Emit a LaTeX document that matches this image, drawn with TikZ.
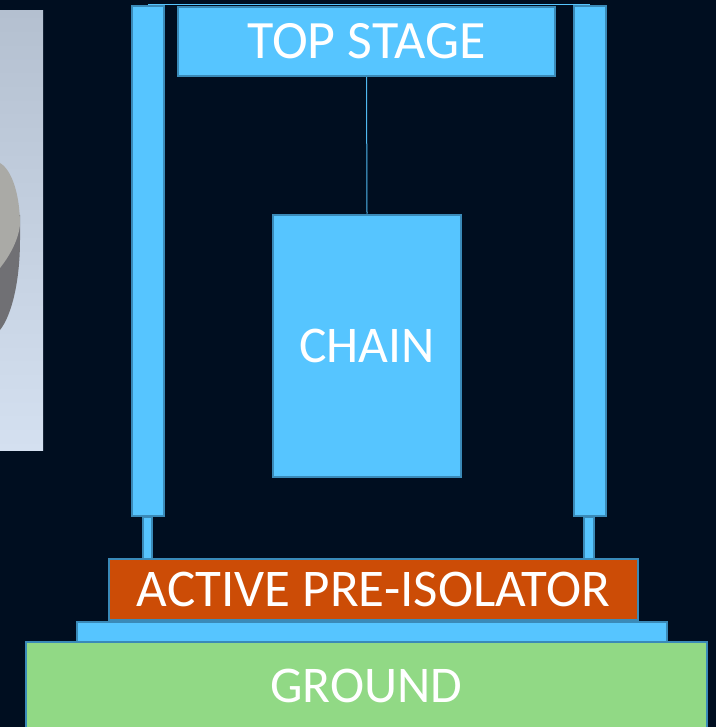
\documentclass[tikz,border=0pt]{standalone}
\usepackage{fontspec}
\setmainfont{Carlito}

\definecolor{night}{RGB}{0,14,32}
\definecolor{sky}{RGB}{86,197,255}
\definecolor{skyedge}{RGB}{58,138,184}
\definecolor{rust}{RGB}{204,76,6}
\definecolor{grass}{RGB}{145,217,133}
\definecolor{photohi}{RGB}{180,192,208}
\definecolor{photolo}{RGB}{212,224,240}
\definecolor{discside}{RGB}{112,112,116}
\definecolor{disctop}{RGB}{170,170,166}

\newcommand{\labelsize}[1]{\fontsize{#1}{64}\selectfont}

\tikzset{
  part/.style = {draw = skyedge, fill = sky, line width = 2.5pt,
                 inner sep = 0pt, text = white, font = \labelsize{51.5}},
  box/.style 2 args = {part, minimum width = #1, minimum height = #2}
}

\begin{document}
\begin{tikzpicture}
        [x = 1pt, y = -1pt]

        \fill[night] (0,0) rectangle (716,727);
        \useasboundingbox (0,0) rectangle (716,727);
        \clip (0,0) rectangle (716,727);

        % photo strip on the left
        \begin{scope}
          \clip (0,11) rectangle (43,450);
          \shade[top color = photohi, bottom color = photolo]
            (0,11) rectangle (43,450);
          \fill[discside] (0,215) -- (20,215) -- (20,240)
            .. controls (20,280) and (12,315) .. (0,330) -- cycle;
          \fill[disctop] (0,163) .. controls (12,170) and (20,195) .. (20,225)
            .. controls (18,242) and (8,258) .. (0,268) -- cycle;
        \end{scope}

        % legs
        \node[box = {9pt}{42pt}]  (leftstem)  at (147.5,538) {};
        \node[box = {10pt}{42pt}] (rightstem) at (589,538) {};
        \node[box = {32pt}{510pt}] (leftpost)  at (148,261) {};
        \node[box = {32pt}{510pt}] (rightpost) at (590,261) {};
        \draw[sky, line width = 1pt] (leftpost.north) -- (rightpost.north);

        % suspension
        \node[box = {377pt}{69pt}, font = \labelsize{54}] (top) at (366.5,41.5)
          {TOP STAGE};
        \node[box = {188pt}{262pt}] (chain) at (367,346) {CHAIN};
        \draw[sky!80!skyedge, line width = 1pt] (top.south) -- (chain.north);

        % base
        \node[box = {681pt}{88pt}, fill = grass] (ground) at (366.5,686) {GROUND};
        \node[box = {590pt}{20pt}] (plate) at (372,632) {};
        \node[box = {529pt}{61pt}, fill = rust, font = \labelsize{53}] (api)
          at (373.5,589.5) {ACTIVE PRE-ISOLATOR};
      \end{tikzpicture}
\end{document}
